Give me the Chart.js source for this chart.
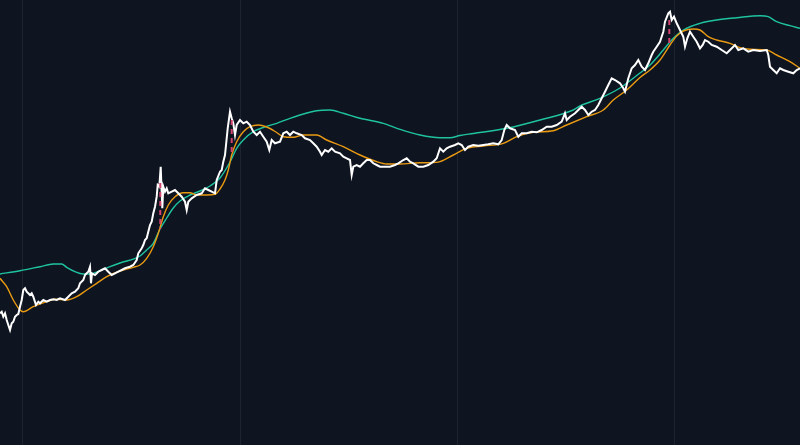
<!DOCTYPE html>
<html>
<head>
<meta charset="utf-8">
<script src="https://cdn.jsdelivr.net/npm/chart.js@4/dist/chart.umd.min.js"></script>
<style>
  html, body { margin: 0; padding: 0; background: #0e1420; }
  #wrap { width: 800px; height: 445px; }
</style>
</head>
<body>
<div id="wrap"><canvas id="price-chart"></canvas></div>
<script>
// x = time index, y = price level
const gridTicks = [22, 240, 457, 674]

const price = [
  [0,131.7],[1.7,133.3],[3.3,128.3],[5,131.7],[6.7,125],[8.3,120],[10,115],[11.7,121.7],
  [13.3,123.3],[15,128.3],[16.7,130],[18.3,131],[20,138.3],[21.7,145],[23.3,155],[25,156.7],
  [26.7,153.3],[28.3,151.7],[30,150],[31.7,151.7],[33.3,148.3],[36,140],[38.3,143.3],[40,141.7],
  [43.3,145],[46.7,143.3],[50,145],[53.3,145.7],[56.7,145],[60,146.7],[65,145],[68.3,148.3],
  [71.7,151.7],[75,153.3],[78.3,156.7],[80,161.7],[83.3,165],[85,170],[86.7,171.7],[88.3,173.3],
  [90,178.3],[91,161.7],[92,171.7],[95,170],[98.3,173.3],[101.7,175],[105,176.7],[108.3,173.3],
  [111.7,170],[115,171.7],[118.3,173.3],[121.7,175],[125,176.7],[130,178.3],[133.3,180],
  [136.7,185],[138.3,191.7],[141.7,196.7],[143.3,200],[145,205],[146.7,206.7],[148.3,213.3],
  [150,220],[151.7,223.3],[153.3,231.7],[155,238.3],[156.7,248.3],[157.7,260],[159.3,258.3],
  [160.7,278.3],[161.7,251.7],[162.3,236.7],[163.3,258.3],[165,253.3],[166.7,256.7],[168.3,251.7],
  [171.7,253.3],[175,255],[178.3,251.7],[181.7,248.3],[185,243.3],[186.7,235],[188.3,243.3],
  [191.7,246.7],[196.7,250],[201.7,251.7],[205,256.7],[208.3,255],[211.7,253.3],[215,251.7],
  [216.7,265],[220,273.3],[221.7,275],[223.3,283.3],[225,290],[227.7,316.7],[230,333.3],
  [231.7,326.7],[233.3,321.7],[235,310],[236.7,320],[240,325],[243.3,321.7],[246.7,323.3],
  [250,320],[253.3,313.3],[256.7,310],[260,313.3],[263.3,308.3],[266.7,303.3],[269.3,295],
  [271.7,305],[275,301.7],[280,303.3],[283.3,311.7],[286.7,313.3],[290,310],[293.3,313.3],
  [296.7,311.7],[301.7,310],[305,306.7],[310,305],[313.3,301.7],[316.7,298.3],[320,293.3],
  [321.7,290],[325,295],[328.3,293.3],[331.7,296.7],[335,293.3],[340,291.7],[343.3,288.3],
  [346.7,286.7],[350,285],[351.7,270],[353.3,278.3],[356.7,280],[360,278.3],[363.3,281.7],
  [366.7,285],[370,285],[373.3,281.7],[376.7,280],[380,278.3],[385,278.3],[390,278.3],
  [395,280],[398.3,281.7],[403.3,285],[406.7,286.7],[410,283.3],[413.3,281.7],[418.3,278.3],
  [423.3,278.3],[428.3,280],[433.3,283.3],[436.7,286.7],[440,296.7],[443.3,293.3],[446.7,296.7],
  [450,298.3],[455,300],[458.3,301.7],[461.7,300],[465,295],[468.3,298.3],[473.3,300],
  [478.3,299.3],[483.3,300],[488.3,300.7],[493.3,301.7],[498.3,300.7],[501.7,305],[504.3,315],
  [506.7,320],[510,316.7],[515,315],[518.3,308.3],[521.7,311.7],[526.7,311.7],[531.7,313.3],
  [536.7,312.7],[541.7,315],[546.7,318.3],[551.7,318.3],[556.7,320],[561.7,323.3],[565,331.7],
  [566.7,325],[570,328.3],[575,331.7],[578.3,335],[581.7,338.3],[585,335],[588.3,330],
  [591.7,333.3],[595,335],[598.3,340],[601.7,346.7],[605,353.3],[608.3,360],[611.7,366.7],
  [615,365],[620,361.7],[623.3,356.7],[625,353.3],[628.3,366.7],[631.7,376.7],[635,380],
  [638.3,385],[641.7,378.3],[645,375],[648.3,381.7],[651.7,390],[653.3,393.3],[656.7,398.3],
  [660,403.3],[663.3,413.3],[665,423.3],[668.3,431.7],[670,433.3],[671.7,425],[674,428.3],
  [676.7,421.7],[680,415],[683.3,408.3],[685,398.3],[687.3,406.7],[690,413.3],[693.3,408.3],
  [696.7,403.3],[700,396.7],[702.7,400],[705,405],[708.3,403.3],[711.7,400],[716.7,398.3],
  [721.7,395],[726.7,391.7],[730,395],[735,400],[738.3,395],[743.3,396.7],[748.3,393.3],
  [753.3,395],[760,394],[766.7,395],[768.3,390],[770,378.3],[773.3,375],[776.7,371.7],
  [780,376.7],[783.3,375],[788.3,373.3],[793.3,371.7],[796.7,375],[800,376.7]
]

const fastMA = [
  [0,166.7],[6.7,158.3],[13.3,145],[20,135],[23.3,133.3],[33.3,138.3],[46.7,143.3],[55,145.7],
  [66.7,145],[76.7,148.3],[86.7,155],[96.7,161.7],[106.7,168.3],[120,174],[133.3,177.7],
  [140,180],[146.7,186.7],[153.3,198.3],[158.3,211.7],[163.3,228.3],[168.3,240],[175,248.3],
  [183.3,252.3],[190,252.3],[196.7,250],[206.7,250],[215,250.7],[220,256],[225,265],
  [228.3,275],[231.7,290],[236.7,303.3],[243.3,313.3],[250,318.3],[258.3,320],[266.7,318],
  [276.7,312.5],[283.3,308.3],[293.3,307.7],[303.3,310],[316.7,310],[326.7,305],[343.3,298.3],
  [360,290],[376.7,283.3],[386.7,281],[400,281],[420,282.3],[430,282.3],[440,283.3],
  [453.3,290],[466.7,296.7],[483.3,299],[503.3,301.7],[516.7,308.3],[533.3,312.7],[553.3,314.3],
  [566.7,320],[586.7,328.3],[603.3,335],[613.3,345],[626.7,355],[640,367.5],[650,375],
  [660,385],[670,400],[676.7,409],[683.3,414],[693.3,416],[700,415],[708.3,408.3],
  [716.7,405],[730,401.7],[740,397.3],[750,395.7],[766.7,395],[776.7,390],[790,383.3],
  [800,376.7]
]

const slowMA = [
  [0,171],[20,174.3],[40,178.3],[53.3,181],[61.7,181],[66.7,177.7],[75,173.3],[83.3,171],
  [90,171],[100,174.3],[110,178.3],[120,182],[140,189],[146.7,195],[153.3,201.7],[160,216],
  [166.7,227],[173.3,237],[180,244],[190,250],[200,254],[210,259],[220,267],[230,283],
  [236.7,296.7],[243.3,305],[253.3,313.3],[263.3,317.5],[276.7,321.7],[290,326.7],[300,330],
  [316.7,334.3],[330,335],[343.3,331.7],[360,326.7],[383.3,321.7],[400,315.7],[420,310],
  [440,307.3],[450,307.3],[460,309.5],[473.3,311.5],[506.7,316.7],[540,325],[573.3,335],
  [580,339],[600,346.7],[620,357],[640,372],[650,380],[663.3,395],[673.3,406.7],[683.3,415],
  [700,421.7],[716.7,425],[736.7,427.3],[760,429.3],[768.3,428.3],[776.7,423.3],[790,419.3],
  [800,416.7]
]

// peak markers: price down to the moving average
const peakGaps = [
  [[160.3,262],[160.3,216]],
  [[231.7,325],[231.7,290]],
  [[669.3,425],[669.3,398.3]]
]

const toXY = arr => arr.map(p => ({ x: p[0], y: p[1] }))

const datasets = peakGaps.map(gap => ({
  data: toXY(gap),
  borderColor: '#d2446e',
  borderWidth: 2,
  borderDash: [5, 4],
  pointRadius: 0,
  order: 0
}))

datasets.push({
  data: toXY(slowMA),
  borderColor: '#1fc3a0',
  borderWidth: 1.4,
  pointRadius: 0,
  cubicInterpolationMode: 'monotone',
  order: 3
})
datasets.push({
  data: toXY(fastMA),
  borderColor: '#e99a12',
  borderWidth: 1.4,
  pointRadius: 0,
  cubicInterpolationMode: 'monotone',
  order: 2
})
datasets.push({
  data: toXY(price),
  borderColor: '#ffffff',
  borderWidth: 2,
  pointRadius: 0,
  tension: 0,
  order: 1
})

const ctx = document.getElementById('price-chart').getContext('2d')
const chart = new Chart(ctx, {
  type: 'line',
  data: { datasets: datasets },
  options: {
    responsive: true,
    maintainAspectRatio: false,
    animation: false,
    layout: { padding: 0 },
    plugins: { legend: { display: false }, tooltip: { enabled: false } },
    scales: {
      x: {
        type: 'linear',
        min: 0,
        max: 800,
        afterBuildTicks: axis => { axis.ticks = gridTicks.map(v => ({ value: v })) },
        grid: { color: '#1d2430', lineWidth: 1, drawTicks: false },
        border: { display: false },
        ticks: { display: false }
      },
      y: {
        display: false,
        min: 0,
        max: 445
      }
    }
  }
})
</script>
</body>
</html>
